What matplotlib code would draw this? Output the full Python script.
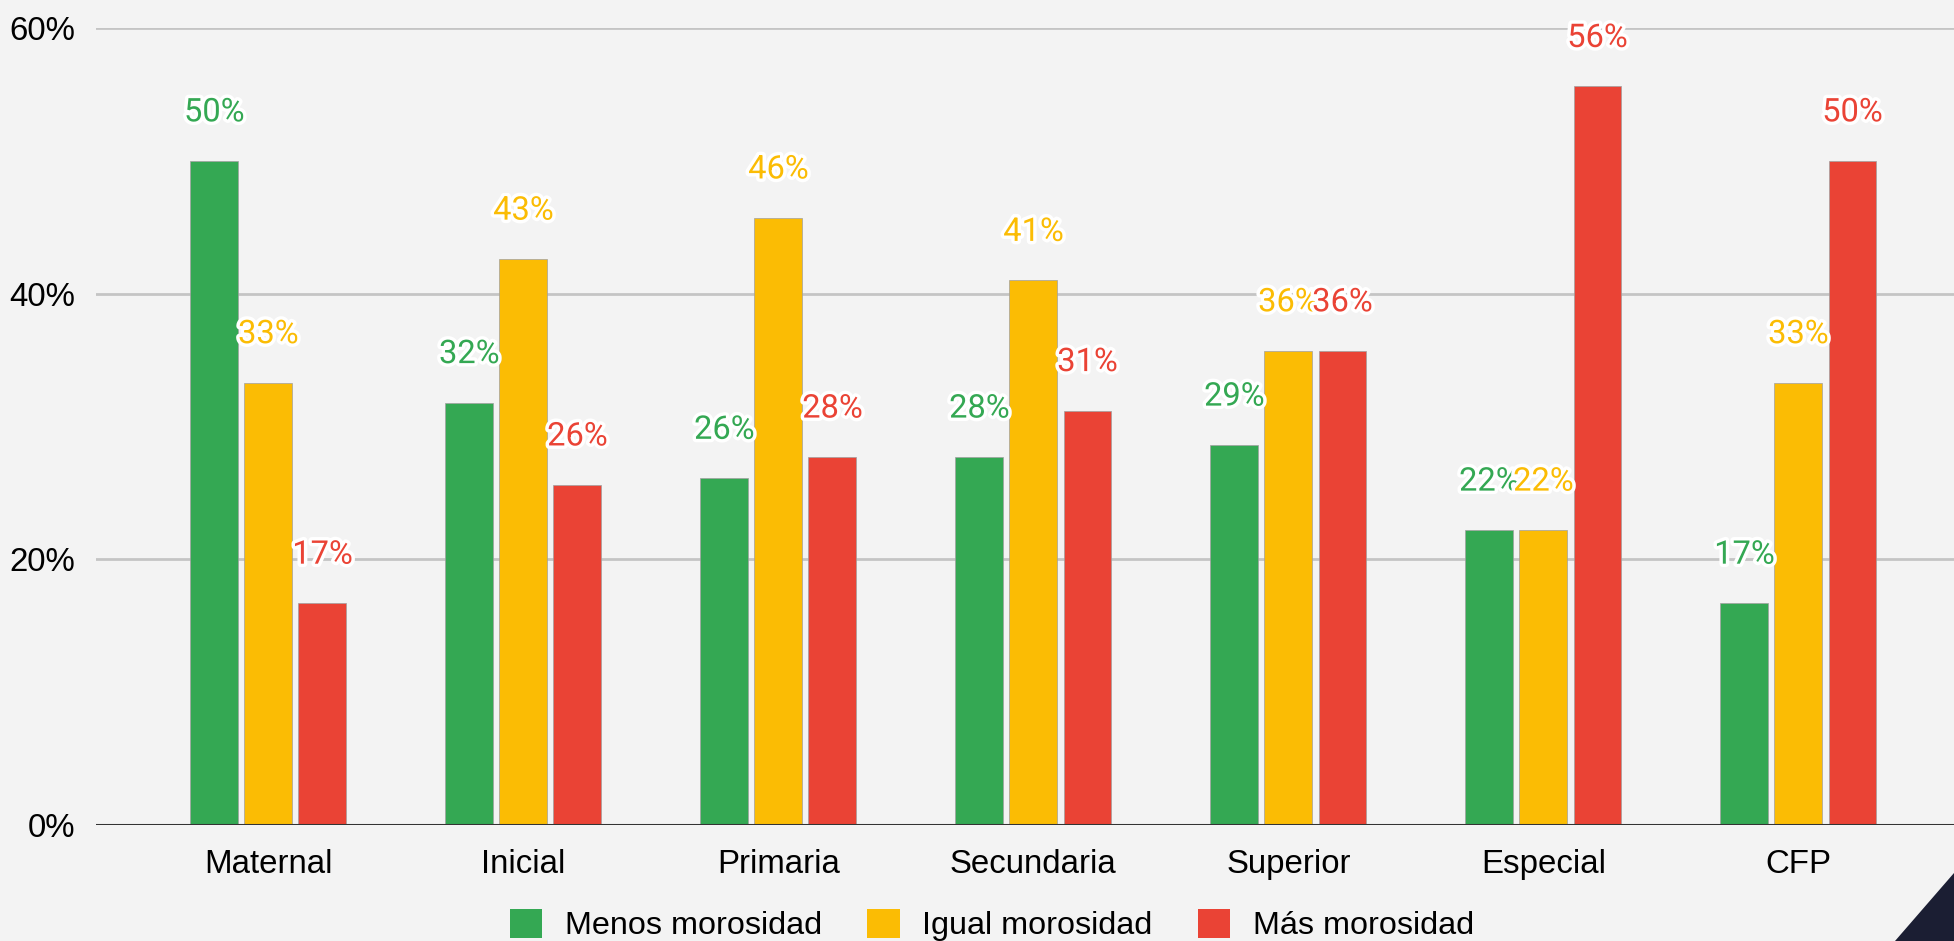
import matplotlib
matplotlib.use("Agg")
import matplotlib.pyplot as plt
import matplotlib.patheffects as pe
from matplotlib.patches import Patch, Polygon
import numpy as np

categories = ["Maternal", "Inicial", "Primaria", "Secundaria", "Superior", "Especial", "CFP"]
series_names = ["Menos morosidad", "Igual morosidad", "Más morosidad"]
menos = [50.0, 31.8, 26.1, 27.7, 28.6, 22.2, 16.7]
igual = [33.3, 42.6, 45.7, 41.0, 35.7, 22.2, 33.3]
mas = [16.7, 25.6, 27.7, 31.2, 35.7, 55.6, 50.0]
yticks = [0, 20, 40, 60]

colors = ["#34a853", "#fbbc04", "#ea4335"]
bg = "#f3f3f3"

plt.rcParams["font.family"] = ["Liberation Sans", "DejaVu Sans"]

fig = plt.figure(figsize=(19.54, 9.41), dpi=100, facecolor=bg)
ax = fig.add_axes([96 / 1954, 1 - 825 / 941, 1 - 96 / 1954, (825 - 28) / 941])
ax.set_facecolor(bg)

x = np.arange(len(categories))
width = 0.188
step = 0.212
for i, (vals, col) in enumerate(zip([menos, igual, mas], colors)):
    pos = x + (i - 1) * step
    ax.bar(pos, vals, width, color=col, edgecolor="#a0a0a0", linewidth=0.5,
           label=series_names[i], zorder=3)
    for xp, v in zip(pos, vals):
        ax.text(xp, v + 3.65, f"{v:.0f}%", ha="center", va="center",
                fontsize=23.5, color=col, family=["Roboto", "DejaVu Sans"],
                zorder=5, clip_on=False,
                path_effects=[pe.withStroke(linewidth=5, foreground="white")])

ax.set_ylim(0, 60)
ax.set_xlim(-0.676, 6.61)
ax.set_yticks(yticks)
ax.set_yticklabels([f"{t}%" for t in yticks])
ax.set_xticks(x)
ax.set_xticklabels(categories)
ax.tick_params(axis="both", length=0, labelsize=23.8, colors="#000000")
ax.tick_params(axis="x", pad=17)
ax.tick_params(axis="y", pad=15)

for t in yticks[1:]:
    ax.axhline(t, color="#c4c4c4", linewidth=2, zorder=1)
ax.axhline(0, color="#333333", linewidth=2.2, zorder=4)
for s in ax.spines.values():
    s.set_visible(False)

handles = [Patch(facecolor=c, edgecolor="none") for c in colors]
fig.legend(handles, series_names, loc="center", bbox_to_anchor=(992 / 1954, 1 - 925 / 941),
           ncol=3, frameon=False, fontsize=23.3, handlelength=1.0, handleheight=1.0,
           handletextpad=0.7, columnspacing=1.4)

# dark corner decoration
fig.patches.append(Polygon([[1895 / 1954, 0], [1, 0], [1, 1 - 873 / 941]],
                           closed=True, transform=fig.transFigure,
                           facecolor="#1b1e33", edgecolor="none"))

fig.savefig("out.png", dpi=100, facecolor=bg)
